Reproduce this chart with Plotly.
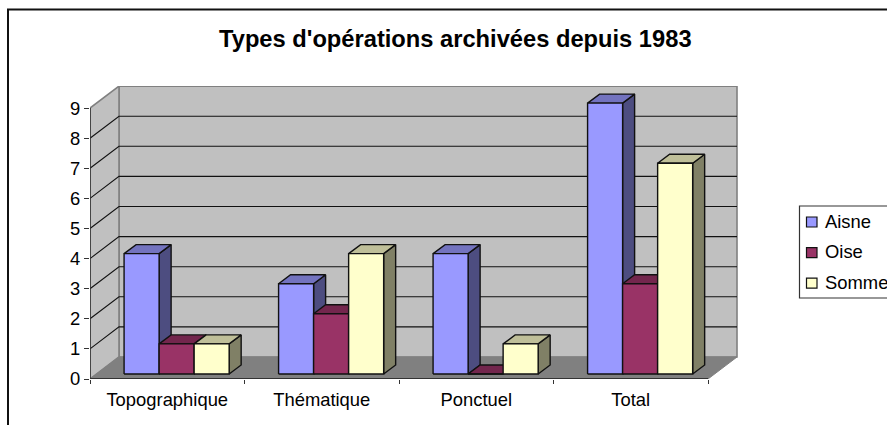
import plotly.graph_objects as go

# ---- data -------------------------------------------------------------
categories = ["Topographique", "Thématique", "Ponctuel", "Total"]
aisne = [4, 3, 4, 9]
oise = [1, 2, 0, 3]
somme = [1, 4, 1, 7]
series_names = ["Aisne", "Oise", "Somme"]
y_ticks = [0, 1, 2, 3, 4, 5, 6, 7, 8, 9]
title_text = "Types d'opérations archivées depuis 1983"

# ---- style ------------------------------------------------------------
front_colors = ["#9999FF", "#993366", "#FFFFCC"]
top_colors = ["#7373BF", "#73264D", "#BFBF99"]
side_colors = ["#4D4D80", "#4D1A33", "#808066"]
FONT = "Liberation Sans, Arial, sans-serif"
W, H = 887, 425
L, T = 90, 86
PW, PH = 648, 293
UX, UY = 154.5, 30.1        # pixels per category / per value unit
WALL_DX, WALL_DY = 29 / UX, 22 / UY
BAR_DX, BAR_DY = 12 / UX, 9 / UY
FLOOR_SHIFT = 0.227          # bars' front face along the floor depth
BAR_W = 0.2267
GROUP_PAD = 0.178
INK = "#111111"
WALL_EDGE = "#808080"


def px(x):
    return (x - L) / PW


def py(y):
    return (T + PH - y) / PH


fig = go.Figure()


def poly(xs, ys, fill, line, width=1.4):
    fig.add_trace(go.Scatter(x=xs, y=ys, mode="lines", fill="toself", fillcolor=fill,
                             line=dict(color=line, width=width), hoverinfo="skip",
                             showlegend=False))


n = len(categories)
top = y_ticks[-1]
# walls and floor
poly([WALL_DX, n + WALL_DX, n + WALL_DX, WALL_DX, WALL_DX],
     [WALL_DY, WALL_DY, top + WALL_DY, top + WALL_DY, WALL_DY], "#C0C0C0", WALL_EDGE, 1.6)
poly([0, WALL_DX, WALL_DX, 0, 0], [0, WALL_DY, top + WALL_DY, top, 0], "#C0C0C0", WALL_EDGE, 1.6)
for v in y_ticks[1:-1]:
    fig.add_trace(go.Scatter(x=[0, WALL_DX, n + WALL_DX], y=[v, v + WALL_DY, v + WALL_DY],
                             mode="lines", line=dict(color=INK, width=1.1),
                             hoverinfo="skip", showlegend=False))
poly([0, n, n + WALL_DX, WALL_DX, 0], [0, 0, WALL_DY, WALL_DY, 0], "#808080", "#808080", 1)

# bars
all_series = [aisne, oise, somme]
shift_x = FLOOR_SHIFT * WALL_DX
shift_y = FLOOR_SHIFT * WALL_DY
for c in range(n):
    for s, values in enumerate(all_series):
        v = values[c]
        x0 = c + GROUP_PAD + s * BAR_W + shift_x
        x1 = x0 + BAR_W
        y0 = shift_y
        y1 = shift_y + v
        poly([x1, x1 + BAR_DX, x1 + BAR_DX, x1, x1],
             [y0, y0 + BAR_DY, y1 + BAR_DY, y1, y0], side_colors[s], INK)
        poly([x0, x1, x1 + BAR_DX, x0 + BAR_DX, x0],
             [y1, y1, y1 + BAR_DY, y1 + BAR_DY, y1], top_colors[s], INK)
        poly([x0, x1, x1, x0, x0], [y0, y0, y1, y1, y0], front_colors[s], INK)

# axis lines (stop at the front edge of the box)
fig.add_trace(go.Scatter(x=[0, 0], y=[0, top], mode="lines", line=dict(color="#333333", width=1.6),
                         hoverinfo="skip", showlegend=False))
fig.add_trace(go.Scatter(x=[0, n], y=[0, 0], mode="lines", line=dict(color="#333333", width=2),
                         hoverinfo="skip", showlegend=False, cliponaxis=False))

shapes = [
    dict(type="line", xref="paper", yref="paper", x0=px(7), x1=px(887), y0=py(9.5), y1=py(9.5),
         line=dict(color=INK, width=2)),
    dict(type="line", xref="paper", yref="paper", x0=px(8), x1=px(8), y0=py(9), y1=py(425),
         line=dict(color=INK, width=2)),
    dict(type="rect", xref="paper", yref="paper", x0=px(799.5), x1=px(900), y0=py(206), y1=py(298),
         line=dict(color="#333333", width=1.2), fillcolor="white"),
]
annotations = [dict(text="<b>%s</b>" % title_text, xref="paper", yref="paper", x=px(455.5), y=py(39),
                    xanchor="center", yanchor="middle", showarrow=False,
                    font=dict(family=FONT, size=23.7, color="black"))]
for i, name in enumerate(series_names):
    yc = 221.5 + i * 30.6
    shapes.append(dict(type="rect", xref="paper", yref="paper", x0=px(806.5), x1=px(817),
                       y0=py(yc - 4.5), y1=py(yc + 5.5), fillcolor=front_colors[i],
                       line=dict(color=INK, width=1.2)))
    annotations.append(dict(text=name, xref="paper", yref="paper", x=px(823), y=py(yc - 0.5),
                            xanchor="left", yanchor="middle", showarrow=False,
                            font=dict(family=FONT, size=18.4, color="black")))

fig.update_layout(
    width=W, height=H, autosize=False, showlegend=False,
    margin=dict(l=L, r=W - L - PW, t=T, b=H - T - PH, pad=0),
    paper_bgcolor="white", plot_bgcolor="white",
    font=dict(family=FONT, size=18.4, color="black"),
    shapes=shapes, annotations=annotations,
    xaxis=dict(range=[0, PW / UX], showgrid=False, zeroline=False, showline=False,
               tickmode="array", tickvals=[i + 0.5 for i in range(n)], ticktext=categories,
               ticks="", ticklabelstandoff=8,
               minor=dict(tickmode="array", tickvals=list(range(n + 1)), ticks="outside",
                          ticklen=4, tickwidth=1, tickcolor="#333333", showgrid=False)),
    yaxis=dict(range=[0, PH / UY], showgrid=False, zeroline=False, showline=False,
               tickmode="array", tickvals=y_ticks, ticks="outside", ticklen=5, tickwidth=1,
               tickcolor="#333333"),
)

fig.write_html("out.html", config={"displayModeBar": False},
               post_script="document.body.style.margin='0';document.body.style.overflow='hidden';")
